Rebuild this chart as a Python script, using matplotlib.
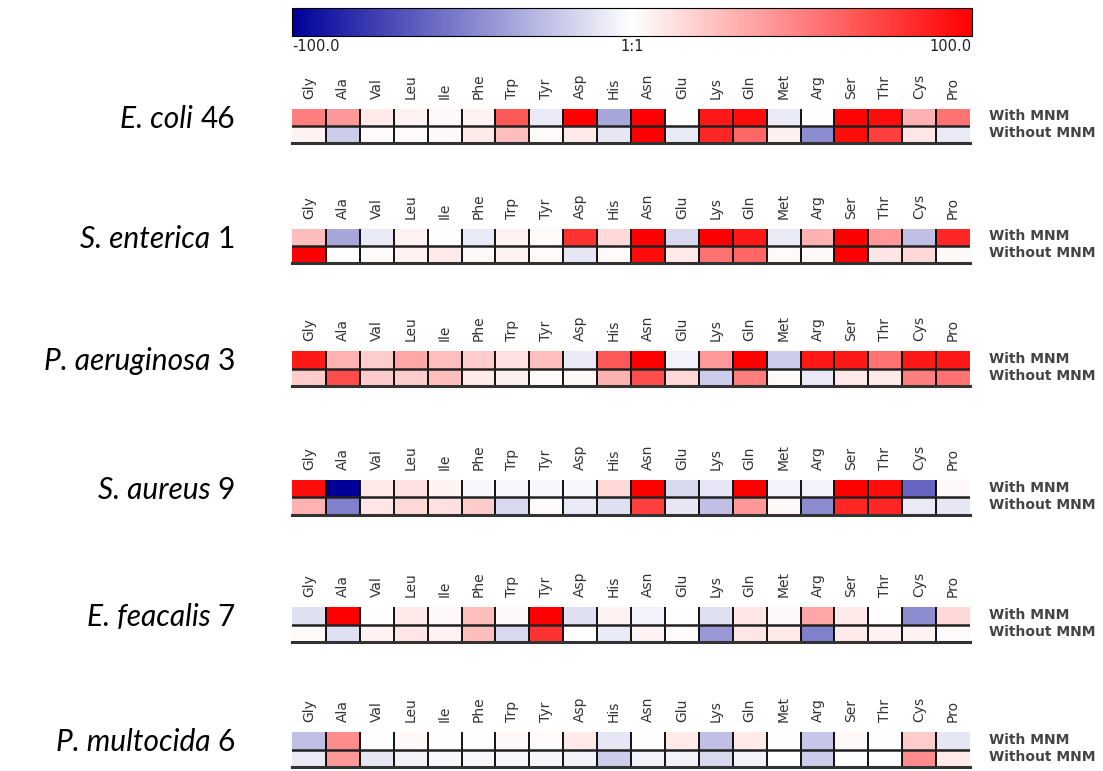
import numpy as np
import matplotlib as mpl
mpl.use('Agg')
import matplotlib.pyplot as plt
from matplotlib.colors import LinearSegmentedColormap, Normalize


aminoAcids = ["Gly", "Ala", "Val", "Leu", "Ile", "Phe", "Trp", "Tyr", "Asp", "His",
              "Asn", "Glu", "Lys", "Gln", "Met", "Arg", "Ser", "Thr", "Cys", "Pro"]
rowNames = ["With MNM", "Without MNM"]
species = ["E. coli", "S. enterica", "P. aeruginosa", "S. aureus", "E. feacalis", "P. multocida"]
strains = ["46", "1", "3", "9", "7", "6"]

ecoliWith = [50, 40, 8, 5, 3, 5, 65, -8, 100, -35, 100, 0, 90, 95, -8, 0, 98, 95, 30, 55]
ecoliWithout = [5, -20, 2, 2, 3, 8, 25, 2, 8, -10, 100, -8, 85, 60, 6, -45, 95, 75, 10, -8]
entericaWith = [25, -35, -8, 5, 0, -8, 5, 2, 80, 15, 100, -15, 100, 90, -8, 30, 100, 40, -25, 85]
entericaWithout = [100, 0, 2, 5, 8, 3, 5, 2, -10, 2, 95, 8, 55, 60, 2, 2, 100, 10, 15, 2]
aeruginosaWith = [90, 30, 20, 35, 25, 20, 12, 25, -8, 65, 100, -5, 40, 100, -20, 90, 90, 55, 90, 90]
aeruginosaWithout = [20, 70, 20, 20, 25, 8, 6, 2, 3, 30, 70, 15, -20, 50, 2, -8, 8, 8, 50, 55]
aureusWith = [95, -100, 8, 12, 5, -3, -3, -3, -3, 15, 100, -15, -10, 100, -5, -5, 100, 95, -60, 3]
aureusWithout = [30, -50, 10, 15, 12, 20, -15, 2, -8, -12, 75, -10, -25, 40, 3, -45, 85, 85, -8, -10]
feacalisWith = [-12, 100, 0, 8, 3, 25, 3, 100, -12, 5, -5, 0, -12, 10, 3, 35, 8, 0, -45, 15]
feacalisWithout = [2, -12, 5, 10, 5, 25, -15, 80, 0, -8, 5, 2, -40, 10, 8, -50, 8, 5, 5, 2]
multocidaWith = [-25, 45, 0, 3, 0, 0, 3, 2, 8, -10, 0, 8, -25, 8, 0, -22, 3, 0, 20, -10]
multocidaWithout = [-8, 40, -10, -5, -3, -3, -3, -3, -5, -20, -5, -5, -15, -5, 0, -20, 0, 0, 45, 8]

panels = [
    [ecoliWith, ecoliWithout],
    [entericaWith, entericaWithout],
    [aeruginosaWith, aeruginosaWithout],
    [aureusWith, aureusWithout],
    [feacalisWith, feacalisWithout],
    [multocidaWith, multocidaWithout],
]

W, H = 1103, 771
# pixel rows (top, bottom) of each heatmap strip
panelPix = [(109, 143), (229, 263), (351, 386), (480, 515), (607, 642), (732, 767)]
left, right = 292, 970

cmap = LinearSegmentedColormap.from_list("bwr2", ["#000099", "#ffffff", "#ff0000"])
norm = Normalize(-100, 100)


def figRect(x0, y0, x1, y1):
    return [x0 / W, 1 - y1 / H, (x1 - x0) / W, (y1 - y0) / H]


fig = plt.figure(figsize=(W / 100, H / 100), dpi=100)

# colour bar
cax = fig.add_axes(figRect(292, 8, 972, 36))
cb = fig.colorbar(mpl.cm.ScalarMappable(norm=norm, cmap=cmap), cax=cax,
                  orientation='horizontal', ticks=[-100, 0, 100])
cb.outline.set_linewidth(0.8)
cax.set_xticklabels(["-100.0", "1:1", "100.0"], fontsize=10.5, family="DejaVu Sans",
                    color='#222222')
cax.tick_params(length=0, pad=2)
tl = cax.get_xticklabels()
tl[0].set_ha('left')
tl[2].set_ha('right')

for i, (rows, (top, bot)) in enumerate(zip(panels, panelPix)):
    ax = fig.add_axes(figRect(left, top, right, bot))
    data = np.array(rows, dtype=float)
    ax.pcolormesh(np.arange(len(aminoAcids) + 1), np.arange(3), data,
                  cmap=cmap, norm=norm)
    ax.set_xlim(0, len(aminoAcids))
    ax.set_ylim(2, 0)
    for x in range(1, len(aminoAcids)):
        ax.axvline(x, color='black', lw=1.3)
    ax.axhline(1, color='#222222', lw=1.8)
    ax.axhline(2, color='#333333', lw=2.2, clip_on=False)
    for s in ax.spines.values():
        s.set_visible(False)
    ax.xaxis.tick_top()
    ax.set_xticks(np.arange(len(aminoAcids)) + 0.5)
    ax.set_xticklabels(aminoAcids, rotation=90, fontsize=10, color='#333333')
    ax.tick_params(axis='x', length=0, pad=7.5)
    ax.set_yticks([])

    for r, name in enumerate(rowNames):
        ax.text(1.028, 1 - (r + 0.5) / 2 + 0.03, name, transform=ax.transAxes,
                ha='left', va='center', fontsize=10, fontweight='bold', color='#444444')

    num = fig.text(235 / W, 1 - (top + 10) / H, strains[i], ha='right', va='center',
                   fontsize=21.5, family='Lato')
    ax.annotate(species[i] + " ", xy=(0, 0.5), xycoords=num, ha='right', va='center',
                fontsize=21.5, family='Lato', style='italic')

fig.savefig("out.png", dpi=100)
